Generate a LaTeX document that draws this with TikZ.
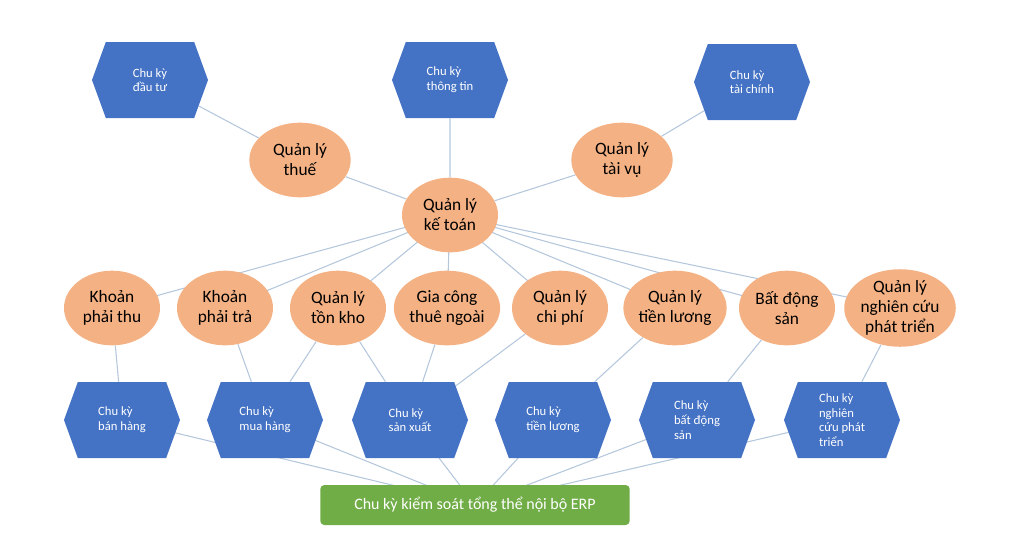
\documentclass[tikz,border=0pt]{standalone}
\usepackage{fontspec}
\setmainfont{Carlito}
\usetikzlibrary{shapes.symbols,shapes.geometric,backgrounds}
\definecolor{hexb}{HTML}{4472C4}
\definecolor{ell}{HTML}{F4B183}
\definecolor{grn}{HTML}{70AD47}
\definecolor{ln}{HTML}{B4C7DC}
\begin{document}
\begin{tikzpicture}[x=0.75pt,y=-0.75pt,
 hex/.style={shape=signal,signal to=east and west,signal pointer angle=140,fill=hexb,draw=none,
   minimum width=87pt,minimum height=57pt,text=white,font=\fontsize{9.5}{11}\selectfont,align=left,inner sep=1pt},
 el/.style={ellipse,fill=ell,draw=none,minimum width=72pt,minimum height=56pt,inner sep=0pt,
   font=\fontsize{13}{15}\selectfont,align=center},
 ln/.style={draw=ln,line width=0.8pt}]
\useasboundingbox (0,0) rectangle (1013,544);
\node[hex] (h1) at (150,80) {Chu kỳ\\đầu tư};
\node[hex] (h2) at (450,80) {Chu kỳ\\thông tin};
\node[hex] (h3) at (752,82) {Chu kỳ\\tài chính};
\node[el,minimum width=76pt] (thue) at (300,160) {Quản lý\\thuế};
\node[el,minimum width=76pt] (tv) at (622,160) {Quản lý\\tài vụ};
\node[el] (kt) at (450,215) {Quản lý\\kế toán};
\node[el] (e1) at (112,308) {Khoản\\phải thu};
\node[el] (e2) at (225,308) {Khoản\\phải trả};
\node[el] (e3) at (338,308) {Quản lý\\tồn kho};
\node[el,minimum width=76pt] (e4) at (447,308) {Gia công\\thuê ngoài};
\node[el] (e5) at (560,308) {Quản lý\\chi phí};
\node[el,minimum width=76pt] (e6) at (675,308) {Quản lý\\tiền lương};
\node[el] (e7) at (787,308) {Bất động\\sản};
\node[el,minimum width=74pt] (e8) at (900,308) {Quản lý\\nghiên cứu\\phát triển};
\node[hex] (b1) at (122,420) {Chu kỳ\\bán hàng};
\node[hex] (b2) at (265,420) {Chu kỳ\\mua hàng};
\node[hex] (b3) at (410,420) {Chu kỳ\\sản xuất};
\node[hex] (b4) at (553,420) {Chu kỳ\\tiền lương};
\node[hex] (b5) at (697,420) {Chu kỳ\\bất động\\sản};
\node[hex] (b6) at (842,420) {Chu kỳ\\nghiên\\cứu phát\\triển};
\node[fill=grn,rounded corners=3pt,minimum width=232pt,minimum height=30pt,text=white,
  font=\fontsize{12}{14}\selectfont] (g) at (475,505) {Chu kỳ kiểm soát tổng thể nội bộ ERP};
\begin{scope}[on background layer]
\draw[ln] (h1)--(thue); \draw[ln] (h2)--(kt); \draw[ln] (h3)--(tv);
\draw[ln] (thue)--(kt); \draw[ln] (tv)--(kt);
\foreach \e in {e1,e2,e3,e4,e5,e6,e7,e8} \draw[ln] (kt.center)--(\e.center);
\draw[ln] (e1)--(b1); \draw[ln] (e2)--(b2); \draw[ln] (e3)--(b2); \draw[ln] (e3)--(b3);
\draw[ln] (e4)--(b3); \draw[ln] (e5)--(b3); \draw[ln] (e6)--(b4); \draw[ln] (e7)--(b5); \draw[ln] (e8)--(b6);
\foreach \b in {b1,b2,b3,b4,b5,b6} \draw[ln] (\b.center)--(g.center);
\end{scope}
\end{tikzpicture}
\end{document}
